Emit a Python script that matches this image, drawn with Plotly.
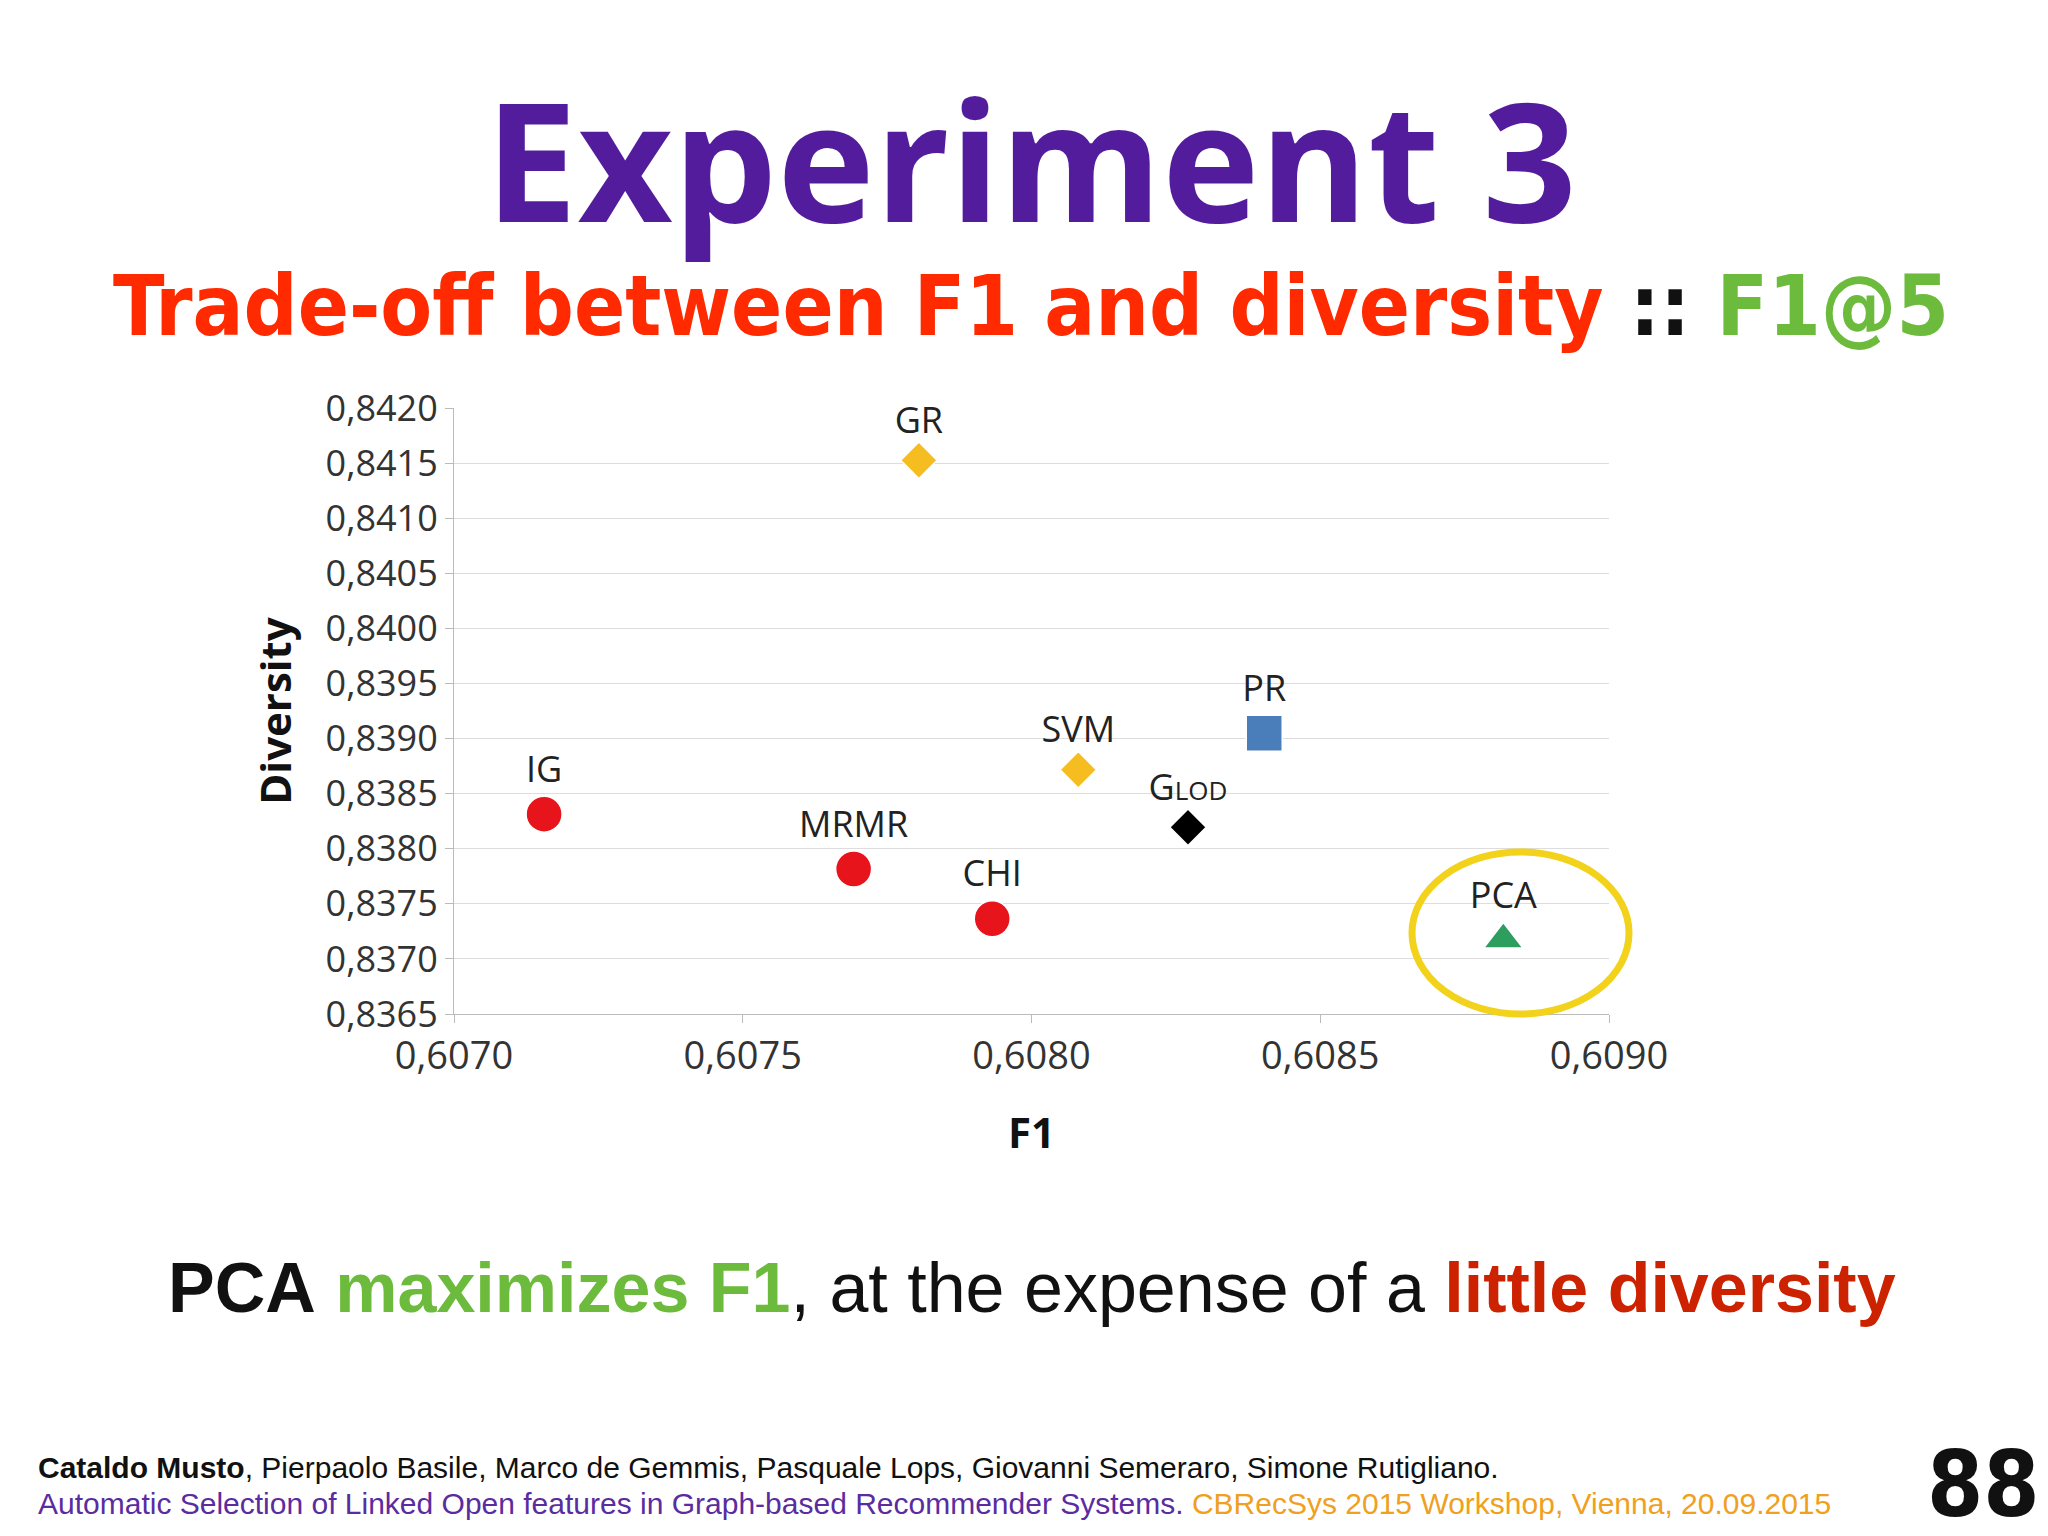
import plotly.graph_objects as go

names = ["IG", "MRMR", "CHI", "GR", "SVM", "GLOD", "PR", "PCA"]
labels = ["IG", "MRMR", "CHI", "GR", "SVM", "G<span style='font-size:26px'>LOD</span>", "PR", "PCA"]
f1 = [0.607156, 0.607692, 0.607932, 0.607805, 0.608081, 0.608271, 0.608403, 0.608817]
diversity = [0.838314, 0.837816, 0.837365, 0.841526, 0.838717, 0.838195, 0.839049, 0.837176]
colors = ["#e8141c", "#e8141c", "#e8141c", "#f5bd1f", "#f5bd1f", "#000000", "#4a7ebb", "#2e9e5e"]
symbols = ["circle", "circle", "circle", "diamond", "diamond", "diamond", "square", "triangle-up"]
sizes = [36, 36, 36, 28, 28, 28, 36, 34]

W, H = 2048, 1536
L, R, T, B = 446, 447, 400, 530
PW, PH = W - L - R, H - T - B
def px(x): return (x - L) / PW
def py(y): return (H - B - y) / PH

COND = "DejaVu Sans Condensed, Liberation Sans Narrow, Arial Narrow, sans-serif"

fig = go.Figure()
fig.add_trace(go.Scatter(
    x=f1, y=diversity, mode="markers+text", text=labels,
    textposition="top center", textfont=dict(size=36, color="#222", family="Open Sans"),
    marker=dict(color=colors, symbol=symbols, size=sizes, opacity=1, line=dict(width=1.5, color="white")),
    opacity=1, cliponaxis=False, showlegend=False))

ann = [
    dict(x=px(1023), y=py(150), text="<b>Experiment 3</b>", font=dict(size=165, color="#521c9c", family="Open Sans")),
    dict(x=px(1023), y=py(298), text="<b><span style='color:#ff2a00'>Trade-off between F1 and diversity</span> :: <span style='color:#6cbb3c'>F1@5</span></b>",
         font=dict(size=84, color="#111", family=COND)),
    dict(x=px(1024), y=py(1280), text="<b>PCA</b> <b><span style='color:#6cbb3c'>maximizes F1</span></b>, at the expense of a <b><span style='color:#cc2200'>little diversity</span></b>",
         font=dict(size=70, color="#111", family="Liberation Sans")),
    dict(x=px(28), y=py(1459), xanchor="left", text="<b>Cataldo Musto</b>, Pierpaolo Basile, Marco de Gemmis, Pasquale Lops, Giovanni Semeraro, Simone Rutigliano.",
         font=dict(size=30, color="#111", family="Liberation Sans")),
    dict(x=px(28), y=py(1495), xanchor="left", text="<span style='color:#5a2ca0'>Automatic Selection of Linked Open features in Graph-based Recommender Systems.</span> <span style='color:#f0a020'>CBRecSys 2015 Workshop, Vienna, 20.09.2015</span>",
         font=dict(size=30, family="Liberation Sans")),
    dict(x=px(1975), y=py(1476), text="<b>88</b>", font=dict(size=90, color="#111", family=COND)),
]
for a in ann:
    a.setdefault("xanchor", "center")
    a.update(xref="paper", yref="paper", yanchor="middle", showarrow=False)
fig.update_layout(annotations=ann)

fig.add_shape(type="circle", xref="paper", yref="paper",
              x0=px(1404), x1=px(1621), y0=py(844), y1=py(1006),
              line=dict(color="#f2d21b", width=7))

fig.update_layout(
    width=W, height=H, margin=dict(l=L, r=R, t=T, b=B),
    paper_bgcolor="white", plot_bgcolor="white", separators=",.",
    xaxis=dict(range=[0.6070, 0.6090], dtick=0.0005, tickformat=".4f", showgrid=False,
               showline=True, linecolor="#bbb", ticks="outside", tickcolor="#bbb", ticklen=8,
               tickfont=dict(size=38, color="#333", family="Open Sans"), zeroline=False,
               title=dict(text="<b>F1</b>", font=dict(size=42, color="#111", family="Open Sans"), standoff=40)),
    yaxis=dict(range=[0.8365, 0.8420], dtick=0.0005, tickformat=".4f", showgrid=True, gridcolor="#ddd",
               showline=True, linecolor="#bbb", ticks="outside", tickcolor="#bbb", ticklen=8,
               tickfont=dict(size=36, color="#333", family="Open Sans"), zeroline=False,
               title=dict(text="<b>Diversity</b>", font=dict(size=42, color="#111", family="Open Sans"), standoff=20)),
)
fig.write_html("out.html")
